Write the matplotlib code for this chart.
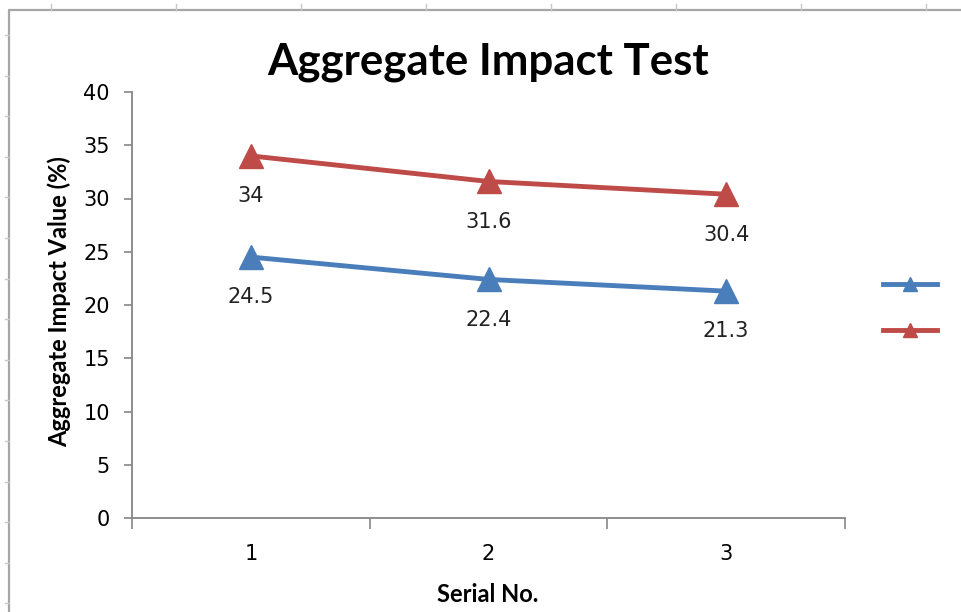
import matplotlib.pyplot as plt
from matplotlib.lines import Line2D

# data
serial = [1, 2, 3]
blue_vals = [24.5, 22.4, 21.3]
red_vals = [34, 31.6, 30.4]
yticks = [0, 5, 10, 15, 20, 25, 30, 35, 40]

blue = "#4A7EBB"
red = "#BE4B48"
grey = "#868686"

fig = plt.figure(figsize=(9.61, 6.12), dpi=100)
ax = fig.add_axes([132 / 961, 1 - 518 / 612, 713 / 961, 426 / 612])

for vals, col in [(blue_vals, blue), (red_vals, red)]:
    ax.plot(serial, vals, color=col, lw=3.5, marker="^", ms=17,
            solid_capstyle="round", zorder=3)
    for x, v in zip(serial, vals):
        ax.annotate(f"{v:g}", (x, v), xytext=(0, -29), textcoords="offset points",
                    ha="center", va="center", fontsize=15, color="#222222")

ax.set_xlim(0.5, 3.5)
ax.set_ylim(0, 40)
ax.set_yticks(yticks)
ax.set_yticklabels([str(t) for t in yticks], fontsize=15)
ax.set_xticks([0.5, 1.5, 2.5, 3.5])
ax.set_xticklabels([])
ax.set_xticks(serial, minor=True)
ax.set_xticklabels([str(s) for s in serial], minor=True, fontsize=15)
ax.tick_params(axis="x", which="minor", length=0, pad=19)
ax.tick_params(axis="x", which="major", length=8, width=1.2, color=grey, direction="out")
ax.tick_params(axis="y", length=6, width=1.2, color=grey, direction="out", pad=10)

for s in ["top", "right"]:
    ax.spines[s].set_visible(False)
for s in ["left", "bottom"]:
    ax.spines[s].set_color(grey)
    ax.spines[s].set_linewidth(1.3)

ax.set_ylabel("Aggregate Impact Value (%)", fontsize=17, fontweight="bold",
              family="Lato")
ax.yaxis.set_label_coords(-0.086, 0.509)
ax.set_xlabel("Serial No.", fontsize=17, fontweight="bold", family="Lato")
ax.xaxis.set_label_coords(0.499, -0.152)

fig.text(488 / 961, 1 - 62 / 612, "Aggregate Impact Test", ha="center", va="center",
         fontsize=31.5, fontweight="bold", family="Lato")

# legend without text, as in the original
handles = [Line2D([], [], color=blue, lw=3.5, marker="^", ms=17),
           Line2D([], [], color=red, lw=3.5, marker="^", ms=17)]
fig.legend(handles, [" ", " "], loc="upper left", bbox_to_anchor=(883 / 961, 1 - 276 / 612),
           frameon=False, fontsize=14, handlelength=2.8, markerscale=0.6,
           borderpad=0, borderaxespad=0, labelspacing=1.37, handletextpad=0.2)

# chart area border and sheet grid marks
fig.add_artist(Line2D([9 / 961, 9 / 961, 1], [0, 1 - 10 / 612, 1 - 10 / 612],
                      transform=fig.transFigure, color="#A6A6A6", lw=1.6))
for k in range(8):
    x = (51 + 125 * k) / 961
    fig.add_artist(Line2D([x, x], [1 - 4 / 612, 1 - 10 / 612], transform=fig.transFigure,
                          color="#C8C8C8", lw=1))
for k in range(15):
    y = 1 - (35 + 40.6 * k) / 612
    fig.add_artist(Line2D([5 / 961, 9 / 961], [y, y], transform=fig.transFigure,
                          color="#C8C8C8", lw=1))

fig.savefig("out.png", dpi=100)
